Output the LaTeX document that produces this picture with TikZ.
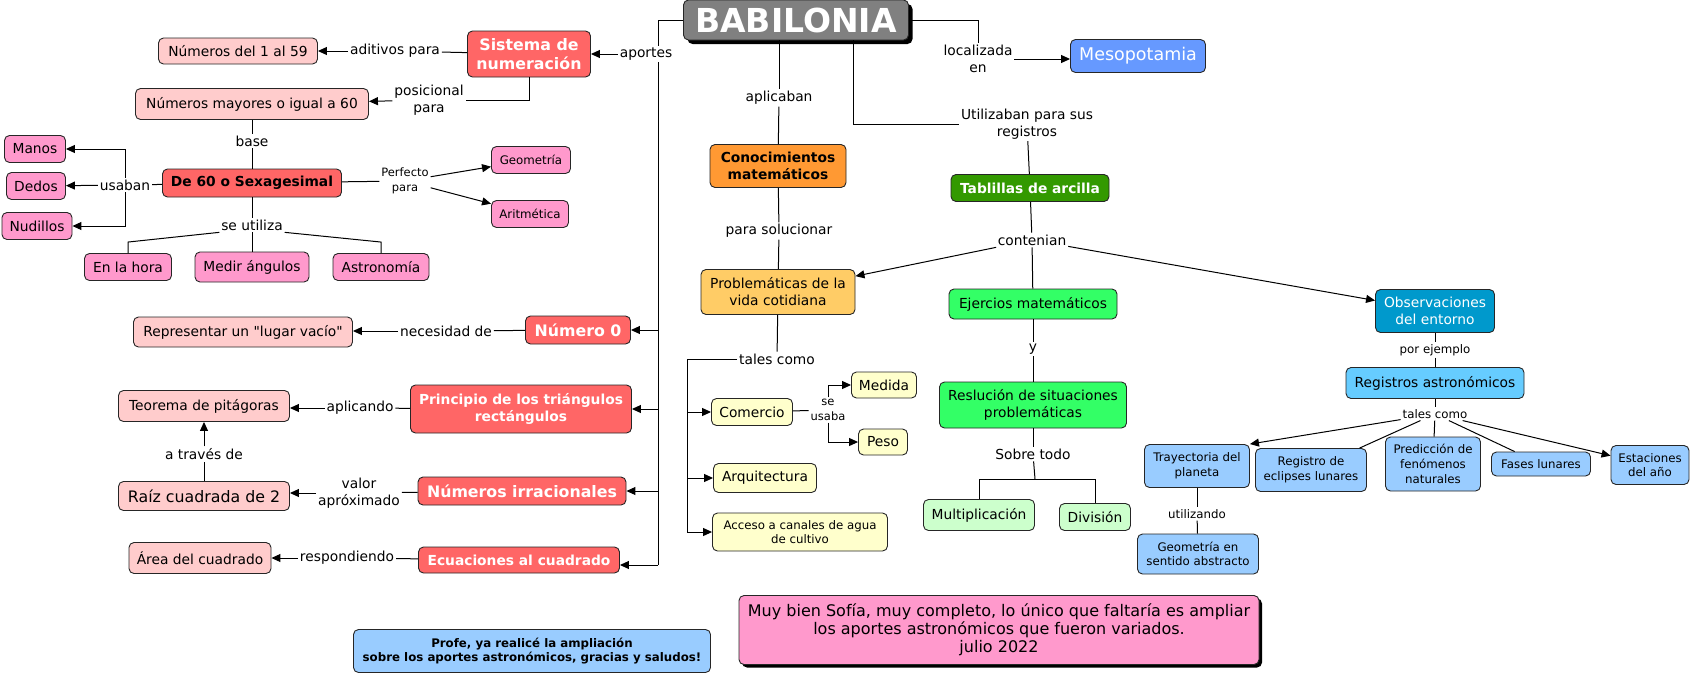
\documentclass[tikz,border=0pt]{standalone}
\usepackage{fontspec}
\setmainfont{DejaVu Sans}[Ligatures=TeXOff]
\usetikzlibrary{arrows.meta,shadows}

\definecolor{grisbab}{HTML}{808080}
\definecolor{salmon}{HTML}{FF6666}
\definecolor{rosaclaro}{HTML}{FFCCCC}
\definecolor{rosa}{HTML}{FF99CC}
\definecolor{azulmeso}{HTML}{6699FF}
\definecolor{naranja}{HTML}{FF9933}
\definecolor{amarillo}{HTML}{FFCC66}
\definecolor{crema}{HTML}{FFFFCC}
\definecolor{verdeosc}{HTML}{339900}
\definecolor{verde}{HTML}{33FF66}
\definecolor{verdeclaro}{HTML}{CCFFCC}
\definecolor{turquesa}{HTML}{0099CC}
\definecolor{celeste}{HTML}{66CCFF}
\definecolor{azulclaro}{HTML}{99CCFF}

\tikzset{
  concept/.style={draw=black!85, line width=0.9pt, rounded corners=5pt, align=center, inner sep=1pt, font=\fontsize{13.8}{17}\selectfont},
  wh/.style 2 args={minimum width=#1, minimum height=#2},
  linkword/.style={inner sep=1.5pt, align=center, font=\fontsize{13.8}{17}\selectfont},
  smalltext/.style={font=\fontsize{11.8}{14.7}\selectfont},
  bigtext/.style={font=\fontsize{15.8}{19.5}\selectfont},
  boldtext/.style={font=\bfseries\fontsize{13.8}{17}\selectfont},
  bigbold/.style={font=\bfseries\fontsize{15.8}{19.5}\selectfont},
  redbox/.style={concept, fill=salmon, text=white},
}

\begin{document}
\begin{tikzpicture}[x=1pt, y=-1pt, line width=1pt, >={Triangle[length=9pt,width=8pt]}]
  \useasboundingbox (0,0) rectangle (1691,675);

  % Centro
  \node[concept, fill=grisbab, text=white, font=\bfseries\fontsize{33}{36}\selectfont, wh={225}{40},
        drop shadow={shadow xshift=4pt, shadow yshift=-4pt, fill=black, opacity=1}] (babilonia) at (796,20) {BABILONIA};

  % Aportes
  \node[redbox, bigbold, wh={123}{46}] (sistema) at (529,54) {Sistema de\\numeración};
  \node[concept, fill=rosaclaro, wh={159}{26}] (num159) at (238,51) {Números del 1 al 59};
  \node[concept, fill=rosaclaro, wh={233}{31}] (num60) at (252,104) {Números mayores o igual a 60};
  \node[concept, fill=salmon, boldtext, wh={179}{28}] (sexa) at (252,183) {De 60 o Sexagesimal};
  \node[concept, fill=rosa, wh={61}{27}] (manos) at (35,149) {Manos};
  \node[concept, fill=rosa, wh={59}{27}] (dedos) at (36,186) {Dedos};
  \node[concept, fill=rosa, wh={70}{27}] (nudillos) at (37,226) {Nudillos};
  \node[concept, fill=rosa, smalltext, wh={79}{27}] (geometria) at (531,160) {Geometría};
  \node[concept, fill=rosa, smalltext, wh={77}{27}] (aritmetica) at (530,214) {Aritmética};
  \node[concept, fill=rosa, wh={87}{27}] (enhora) at (128,267) {En la hora};
  \node[concept, fill=rosa, wh={114}{30}] (medir) at (252,267) {Medir ángulos};
  \node[concept, fill=rosa, wh={96}{27}] (astronomia) at (381,267) {Astronomía};
  \node[redbox, bigbold, wh={105}{28}] (cero) at (578,330) {Número 0};
  \node[concept, fill=rosaclaro, wh={219}{30}] (representar) at (243,332) {Representar un "lugar vacío"};
  \node[redbox, boldtext, wh={221}{48}] (principio) at (521,409) {Principio de los triángulos\\rectángulos};
  \node[concept, fill=rosaclaro, wh={171}{31}] (teorema) at (204,406) {Teorema de pitágoras};
  \node[redbox, bigbold, wh={208}{28}] (irracionales) at (522,491) {Números irracionales};
  \node[concept, fill=rosaclaro, bigtext, wh={171}{29}] (raiz) at (204,496) {Raíz cuadrada de 2};
  \node[redbox, boldtext, wh={201}{26}] (ecuaciones) at (519,560) {Ecuaciones al cuadrado};
  \node[concept, fill=rosaclaro, wh={142}{31}] (area) at (200,558) {Área del cuadrado};

  % Conocimientos y registros
  \node[concept, fill=azulmeso, text=white, font=\fontsize{17.5}{20}\selectfont, wh={135}{33}] (mesopotamia) at (1138,56) {Mesopotamia};
  \node[concept, fill=naranja, boldtext, wh={136}{43}] (conocimientos) at (778,166) {Conocimientos\\matemáticos};
  \node[concept, fill=amarillo, wh={154}{45}] (problematicas) at (778,292) {Problemáticas de la\\vida cotidiana};
  \node[concept, fill=crema, wh={81}{27}] (comercio) at (752,412) {Comercio};
  \node[concept, fill=crema, wh={65}{26}] (medida) at (884,385) {Medida};
  \node[concept, fill=crema, wh={49}{26}] (peso) at (883,442) {Peso};
  \node[concept, fill=crema, wh={103}{29}] (arquitectura) at (765,478) {Arquitectura};
  \node[concept, fill=crema, smalltext, wh={175}{38}] (acceso) at (800,532) {Acceso a canales de agua\\de cultivo};
  \node[concept, fill=verdeosc, text=white, boldtext, wh={158}{27}] (tablillas) at (1030,188) {Tablillas de arcilla};
  \node[concept, fill=verde, wh={168}{30}] (ejercicios) at (1033,304) {Ejercios matemáticos};
  \node[concept, fill=verde, wh={187}{46}] (reslucion) at (1033,405) {Reslución de situaciones\\problemáticas};
  \node[concept, fill=verdeclaro, wh={111}{31}] (multiplicacion) at (979,515) {Multiplicación};
  \node[concept, fill=verdeclaro, wh={71}{27}] (division) at (1095,517) {División};
  \node[concept, fill=turquesa, text=white, wh={119}{43}] (observaciones) at (1435,311) {Observaciones\\del entorno};
  \node[concept, fill=celeste, wh={178}{31}] (registros) at (1435,383) {Registros astronómicos};
  \node[concept, fill=azulclaro, smalltext, wh={105}{43}] (trayectoria) at (1197,466) {Trayectoria del\\planeta};
  \node[concept, fill=azulclaro, smalltext, wh={111}{43}] (eclipses) at (1311,470) {Registro de\\eclipses lunares};
  \node[concept, fill=azulclaro, smalltext, wh={95}{54}] (prediccion) at (1433,464) {Predicción de\\fenómenos\\naturales};
  \node[concept, fill=azulclaro, smalltext, wh={99}{24}] (fases) at (1541,464) {Fases lunares};
  \node[concept, fill=azulclaro, smalltext, wh={78}{39}] (estaciones) at (1650,465) {Estaciones\\del año};
  \node[concept, fill=azulclaro, smalltext, wh={121}{40}] (abstracto) at (1198,554) {Geometría en\\sentido abstracto};

  % Comentarios
  \node[concept, fill=azulclaro, font=\bfseries\fontsize{11.8}{14.7}\selectfont, wh={357}{43}] (profe) at (532,651)
    {Profe, ya realicé la ampliación\\sobre los aportes astronómicos, gracias y saludos!};
  \node[concept, fill=rosa, font=\fontsize{16}{18}\selectfont, wh={520}{69},
        drop shadow={shadow xshift=3pt, shadow yshift=-3pt, fill=black, opacity=1}] (comentario) at (999,630)
    {Muy bien Sofía, muy completo, lo único que faltaría es ampliar\\los aportes astronómicos que fueron variados.\\julio 2022};

  % Palabras de enlace
  \node[linkword] (aportes) at (646,54) {aportes};
  \node[linkword] (aditivos) at (395,51) {aditivos para};
  \node[linkword] (posicional) at (429,100) {posicional\\para};
  \node[linkword] (base) at (252,141) {base};
  \node[linkword] (usaban) at (125,185) {usaban};
  \node[linkword, font=\fontsize{11.5}{14.5}\selectfont] (perfecto) at (405,181) {Perfecto\\para};
  \node[linkword] (seutiliza) at (252,225) {se utiliza};
  \node[linkword] (necesidad) at (446,331) {necesidad de};
  \node[linkword] (aplicando) at (360,408) {aplicando};
  \node[linkword] (atraves) at (204,454) {a través de};
  \node[linkword] (valor) at (359,493) {valor\\apróximado};
  \node[linkword] (respondiendo) at (347,558) {respondiendo};
  \node[linkword] (localizada) at (978,59) {localizada\\en};
  \node[linkword] (aplicaban) at (779,98) {aplicaban};
  \node[linkword] (utilizaban) at (1027,124) {Utilizaban para sus\\registros};
  \node[linkword] (contenian) at (1032,240) {contenian};
  \node[linkword] (solucionar) at (779,231) {para solucionar};
  \node[linkword] (talescomo) at (777,359) {tales como};
  \node[linkword, font=\fontsize{11.5}{14.5}\selectfont] (seusaba) at (828,410) {se\\usaba};
  \node[linkword] (ylink) at (1033,349) {y};
  \node[linkword] (sobretodo) at (1033,454) {Sobre todo};
  \node[linkword, smalltext] (porejemplo) at (1435,350) {por ejemplo};
  \node[linkword, smalltext] (talescomo2) at (1435,414) {tales como};
  \node[linkword, smalltext] (utilizando) at (1197,514) {utilizando};

  \coordinate (trunk) at (658,565);
  \coordinate (bus) at (687,532);
  \coordinate (branch) at (1035,479);

  % Enlaces de los aportes
  \draw (babilonia.west) -| (trunk |- aportes.north);
  \draw[->] (aportes) -- (sistema);
  \draw (trunk |- aportes.south) -- (trunk);
  \draw[->] (trunk |- cero) -- (cero);
  \draw[->] (trunk |- principio) -- (principio);
  \draw[->] (trunk |- irracionales) -- (irracionales);
  \draw[->] (trunk) -- (trunk -| ecuaciones.east);

  \draw (sistema) -- (aditivos);
  \draw[->] (aditivos) -- (aditivos -| num159.east);
  \draw (sistema) |- (posicional);
  \draw[->] (posicional) -- (num60);
  \draw (num60) -- (base);
  \draw (base) -- (sexa);
  \draw (sexa) -- (usaban);
  \draw[->] (usaban) |- (manos);
  \draw[->] (usaban) -- (dedos);
  \draw[->] (usaban) |- (nudillos);
  \draw (sexa) -- (perfecto);
  \draw[->] (perfecto) -- (geometria);
  \draw[->] (perfecto) -- (aritmetica);
  \draw (sexa) -- (seutiliza);
  \draw (seutiliza) -- (medir);
  \draw (seutiliza.south west) -- ([yshift=11pt]enhora.north) -- (enhora);
  \draw (seutiliza.south east) -- ([yshift=11pt]astronomia.north) -- (astronomia);

  \draw (cero) -- (necesidad);
  \draw[->] (necesidad) -- (necesidad -| representar.east);
  \draw (principio) -- (aplicando);
  \draw[->] (aplicando) -- (aplicando -| teorema.east);
  \draw (raiz) -- (atraves);
  \draw[->] (atraves) -- (teorema);
  \draw (irracionales) -- (valor);
  \draw[->] (valor) -- (valor -| raiz.east);
  \draw (ecuaciones) -- (respondiendo);
  \draw[->] (respondiendo) -- (respondiendo -| area.east);

  % Enlaces del centro y la derecha
  \draw (babilonia.east) -| (localizada);
  \draw[->] (localizada) -- (localizada -| mesopotamia.west);
  \draw (aplicaban |- babilonia.south) -- (aplicaban);
  \draw (aplicaban) -- (conocimientos);
  \draw ([xshift=57pt]babilonia.south) |- (utilizaban);
  \draw (utilizaban) -- (tablillas);
  \draw (tablillas) -- (contenian);
  \draw[->] (contenian) -- (problematicas);
  \draw (contenian) -- (ejercicios);
  \draw[->] (contenian) -- (observaciones);

  \draw (conocimientos) -- (solucionar);
  \draw (solucionar) -- (problematicas);
  \draw (problematicas) -- (talescomo);
  \draw (talescomo) -| (bus);
  \draw[->] (bus |- comercio) -- (comercio);
  \draw[->] (bus |- arquitectura) -- (arquitectura);
  \draw[->] (bus) -- (acceso);
  \draw (comercio) -- (seusaba);
  \draw[->] (seusaba) |- (medida);
  \draw[->] (seusaba) |- (peso);

  \draw (ejercicios) -- (ylink);
  \draw (ylink) -- (reslucion);
  \draw (reslucion) -- (sobretodo);
  \draw (sobretodo) -- (branch);
  \draw (branch) -| (multiplicacion);
  \draw (branch) -| (division);

  \draw (observaciones) -- (porejemplo);
  \draw (porejemplo) -- (registros);
  \draw (registros) -- (talescomo2);
  \draw[->] (talescomo2) -- (trayectoria.north east);
  \draw (talescomo2) -- (eclipses);
  \draw (talescomo2) -- (prediccion);
  \draw (talescomo2) -- (fases);
  \draw[->] (talescomo2) -- (estaciones);
  \draw (trayectoria) -- (utilizando);
  \draw (utilizando) -- (abstracto);
\end{tikzpicture}
\end{document}
